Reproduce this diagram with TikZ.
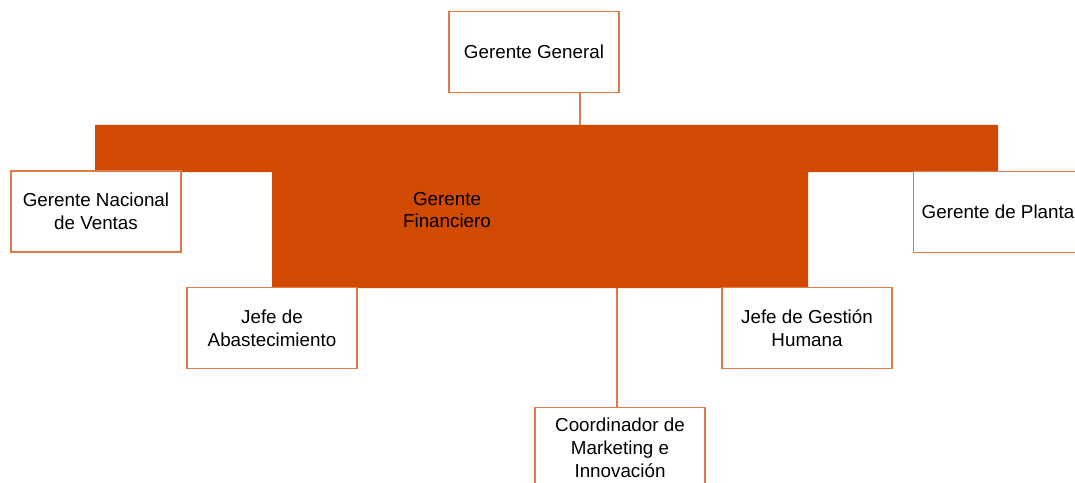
\documentclass[tikz,border=0pt]{standalone}
\usepackage{fontspec}
\setmainfont{Liberation Sans}
\definecolor{finorange}{RGB}{208,74,2}
\definecolor{boxline}{RGB}{226,122,72}
\tikzset{
  orgbox/.style={draw=boxline, line width=0.6pt, fill=white, minimum width=3.4cm,
    minimum height=1.62cm, align=center, inner sep=2pt,
    font=\fontsize{10.7}{13}\selectfont},
  orgline/.style={draw=boxline, line width=0.6pt}
}
\begin{document}
\begin{tikzpicture}[x=0.02cm,y=-0.02cm]

  % Frame
  \useasboundingbox (0,0) rectangle (1075,483);
  \clip (0,0) rectangle (1075,483);

%%%%%%%%%%%%%%%%%%%%%%%%%%%%%%%%%%%%%%%%%%
  % Orange block of the finance manager
  \fill[finorange] (95,125) -- (998,125) -- (998,172) -- (808,172) -- (808,288)
    -- (272,288) -- (272,172) -- (95,172) -- cycle;
  \node[align=center, font=\fontsize{10.7}{13}\selectfont] (fin) at (447,210) {Gerente\\Financiero};
  \coordinate (fintop) at (580,125);
  \coordinate (finbot) at (617,288);

%%%%%%%%%%%%%%%%%%%%%%%%%%%%%%%%%%%%%%%%%%
  % Boxes
  \node[orgbox] (gg) at (534,52) {Gerente General};
  \node[orgbox] (ventas) at (96,211.5) {Gerente Nacional\\de Ventas};
  \node[orgbox] (planta) at (998,212) {Gerente de Planta};
  \node[orgbox] (abast) at (272,328) {Jefe de\\Abastecimiento};
  \node[orgbox] (humana) at (807,328) {Jefe de Gesti\'on\\Humana};
  \node[orgbox] (mkt) at (620,448) {Coordinador de\\Marketing e\\Innovaci\'on};

  % Connectors
  \draw[orgline] (gg.south -| fintop) -- (fintop);
  \draw[orgline] (finbot) -- (mkt.north -| finbot);

\end{tikzpicture}
\end{document}
